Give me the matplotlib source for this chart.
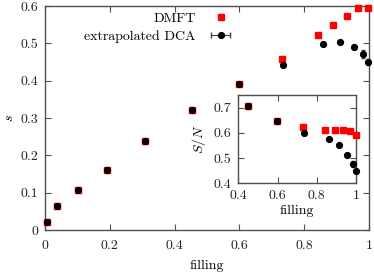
import numpy as np
import matplotlib
matplotlib.use("Agg")
import matplotlib.pyplot as plt
from matplotlib.lines import Line2D
from matplotlib.legend_handler import HandlerLine2D, HandlerTuple

plt.rcParams["font.family"] = ["cmr10", "DejaVu Serif"]
plt.rcParams["mathtext.fontset"] = "cm"
plt.rcParams["axes.formatter.use_mathtext"] = True
plt.rcParams["font.size"] = 10

# main panel: entropy s vs filling
dmft_n = [0.005, 0.038, 0.101, 0.19, 0.309, 0.453, 0.598, 0.731, 0.844, 0.890, 0.931, 0.967, 0.998]
dmft_s = [0.022, 0.064, 0.107, 0.161, 0.238, 0.321, 0.391, 0.459, 0.522, 0.548, 0.574, 0.594, 0.594]
dca_n = [0.005, 0.038, 0.101, 0.19, 0.309, 0.453, 0.598, 0.736, 0.859, 0.910, 0.954, 0.982, 0.998]
dca_s = [0.022, 0.064, 0.107, 0.161, 0.238, 0.321, 0.391, 0.443, 0.497, 0.504, 0.491, 0.471, 0.451]
dca_err = [0, 0, 0, 0, 0, 0, 0, 0, 0, 0, 0, 0.010, 0.008]

# inset: S/N vs filling
ins_dmft_n = [0.451, 0.599, 0.731, 0.843, 0.891, 0.932, 0.969, 1.0]
ins_dmft_v = [0.706, 0.648, 0.625, 0.613, 0.612, 0.612, 0.609, 0.592]
ins_dca_n = [0.451, 0.599, 0.736, 0.861, 0.913, 0.956, 0.985, 1.0]
ins_dca_v = [0.706, 0.648, 0.598, 0.575, 0.551, 0.512, 0.477, 0.449]
ins_dca_err = [0, 0, 0, 0, 0, 0, 0.012, 0.008]

spine_c = "#505050"

def style(ax):
    for sp in ax.spines.values():
        sp.set_color(spine_c)
        sp.set_linewidth(1.0)
    ax.tick_params(direction="in", length=4, width=0.8, color=spine_c,
                   top=True, right=True, labelcolor="#222222", pad=5)

fig = plt.figure(figsize=(3.74, 2.73), dpi=100)
ax = fig.add_axes([45/374, 1-230/273, 324/374, 224/273])

ax.plot(dmft_n, dmft_s, "s", color="red", ms=4, clip_on=False, zorder=3)
ax.errorbar(dca_n, dca_s, yerr=dca_err, fmt="o", color="black", ms=4.2,
            ecolor="#444444", elinewidth=0.8, capsize=1.5, clip_on=False, zorder=4)
ax.set_xlim(0, 1)
ax.set_ylim(0, 0.6)
ax.set_xticks(np.arange(0, 1.01, 0.2))
ax.set_yticks(np.arange(0, 0.61, 0.1))
ax.xaxis.set_major_formatter(plt.FormatStrFormatter("%g"))
ax.yaxis.set_major_formatter(plt.FormatStrFormatter("%g"))
ax.set_xlabel("filling", labelpad=6)
ax.set_ylabel("$s$", labelpad=3)
style(ax)
ax.tick_params(axis="x", pad=7)

h_dmft = Line2D([], [], marker="s", color="red", ls="none", ms=4)
h_caps = Line2D([], [], marker="|", color="#444444", ls="-", lw=0.8, ms=4)
h_dot = Line2D([], [], marker="o", color="black", ls="none", ms=4.2)
leg = ax.legend([h_dmft, (h_caps, h_dot)], ["DMFT", "extrapolated DCA"],
                loc="upper right", bbox_to_anchor=(0.615, 1.015), frameon=False,
                markerfirst=False, handlelength=2.0, handletextpad=0.8,
                labelspacing=0.35, borderaxespad=0.3,
                handler_map={h_caps: HandlerLine2D(numpoints=2),
                             h_dot: HandlerLine2D(numpoints=1),
                             tuple: HandlerTuple(ndivide=1, pad=0)})

ins = fig.add_axes([238.3/374, 1-183.3/273, 117.7/374, 88.3/273])
ins.plot(ins_dmft_n, ins_dmft_v, "s", color="red", ms=4, clip_on=False, zorder=3)
ins.errorbar(ins_dca_n, ins_dca_v, yerr=ins_dca_err, fmt="o", color="black", ms=4.2,
             ecolor="#444444", elinewidth=0.8, capsize=1.5, clip_on=False, zorder=4)
ins.set_xlim(0.4, 1)
ins.set_ylim(0.4, 0.75)
ins.set_xticks([0.4, 0.6, 0.8, 1.0])
ins.set_yticks([0.4, 0.5, 0.6, 0.7])
ins.xaxis.set_major_formatter(plt.FormatStrFormatter("%g"))
ins.yaxis.set_major_formatter(plt.FormatStrFormatter("%g"))
ins.set_xlabel("filling", labelpad=2)
ins.set_ylabel("$S/N$", labelpad=4)
style(ins)

fig.savefig("out.png", dpi=100)
